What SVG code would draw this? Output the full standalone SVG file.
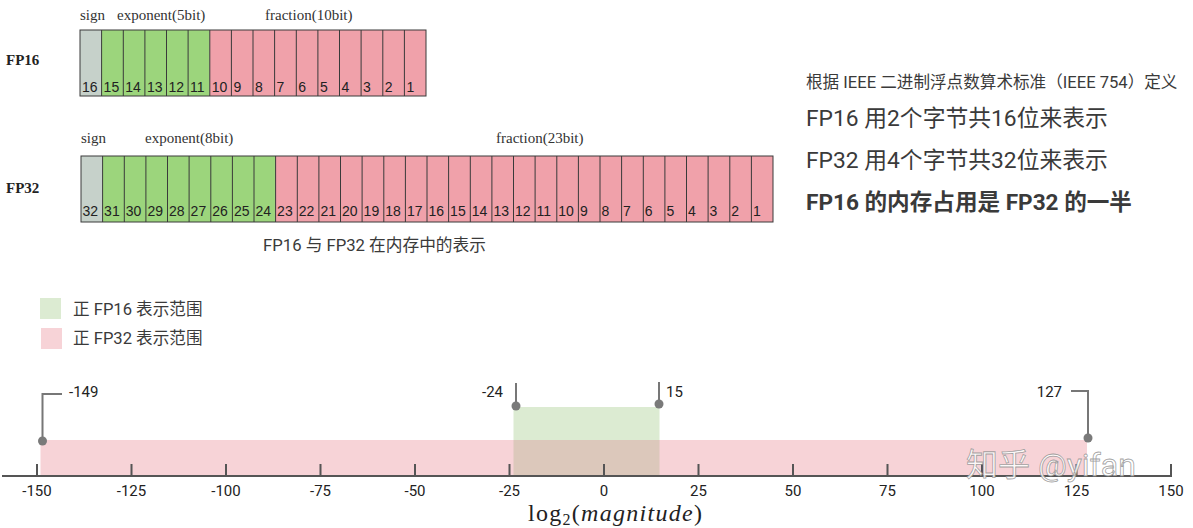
<svg xmlns="http://www.w3.org/2000/svg" width="1193" height="528" viewBox="0 0 1193 528">
<style>
.hdr{font-family:"Liberation Serif","Times New Roman",serif;font-size:15px;fill:#333}
.lbl{font-family:"Liberation Serif","Times New Roman",serif;font-size:15px;font-weight:bold;fill:#222}
.num{font-family:"Liberation Sans",Arial,sans-serif;font-size:14px;fill:#222}
.cell{stroke:#3a3a3a;stroke-width:1}
.div{stroke:#3a3a3a;stroke-width:1}
.sgn{fill:#c6d1ca}
.exp{fill:#9cd57c}
.frc{fill:#f0a1aa}
.cn{font-family:Roboto,"Noto Sans CJK SC",sans-serif;fill:#3a3a3a}
.tk{font-family:Roboto,"Noto Sans",sans-serif;font-size:15px;fill:#222;text-anchor:middle}
.ax{stroke:#555;stroke-width:2}
.pin{stroke:#777;stroke-width:2;fill:none}
.dot{fill:#7a7a7a}
</style>
<rect width="1193" height="528" fill="#ffffff"/>

<g id="fp16">
<text class="lbl" x="6" y="65">FP16</text>
<text class="hdr" x="80" y="20">sign</text>
<text class="hdr" x="117" y="20">exponent(5bit)</text>
<text class="hdr" x="265" y="20">fraction(10bit)</text>
<rect class="sgn" x="80" y="30" width="21.6" height="66"/>
<rect class="exp" x="101.6" y="30" width="108.2" height="66"/>
<rect class="frc" x="209.8" y="30" width="216.2" height="66"/>
<path class="div" d="M101.6 30V96M123.3 30V96M144.9 30V96M166.5 30V96M188.1 30V96M209.8 30V96M231.4 30V96M253 30V96M274.6 30V96M296.3 30V96M317.9 30V96M339.5 30V96M361.1 30V96M382.8 30V96M404.4 30V96"/>
<rect x="80" y="30" width="346" height="66" fill="none" class="cell"/>
<g class="num">
<text x="82" y="92">16</text><text x="103.6" y="92">15</text><text x="125.3" y="92">14</text><text x="146.9" y="92">13</text><text x="168.5" y="92">12</text><text x="190.1" y="92">11</text><text x="211.8" y="92">10</text><text x="233.4" y="92">9</text><text x="255" y="92">8</text><text x="276.6" y="92">7</text><text x="298.3" y="92">6</text><text x="319.9" y="92">5</text><text x="341.5" y="92">4</text><text x="363.1" y="92">3</text><text x="384.8" y="92">2</text><text x="406.4" y="92">1</text>
</g>
</g>

<g id="fp32">
<text class="lbl" x="6" y="193">FP32</text>
<text class="hdr" x="81" y="143">sign</text>
<text class="hdr" x="145" y="143">exponent(8bit)</text>
<text class="hdr" x="496" y="143">fraction(23bit)</text>
<rect class="sgn" x="81" y="156" width="21.6" height="66"/>
<rect class="exp" x="102.6" y="156" width="173" height="66"/>
<rect class="frc" x="275.6" y="156" width="497.4" height="66"/>
<path class="div" d="M102.6 156V222M124.3 156V222M145.9 156V222M167.5 156V222M189.1 156V222M210.8 156V222M232.4 156V222M254 156V222M275.6 156V222M297.3 156V222M318.9 156V222M340.5 156V222M362.1 156V222M383.8 156V222M405.4 156V222M427 156V222M448.6 156V222M470.3 156V222M491.9 156V222M513.5 156V222M535.1 156V222M556.8 156V222M578.4 156V222M600 156V222M621.6 156V222M643.3 156V222M664.9 156V222M686.5 156V222M708.1 156V222M729.8 156V222M751.4 156V222"/>
<rect x="81" y="156" width="692" height="66" fill="none" class="cell"/>
<g class="num">
<text x="82.5" y="216">32</text><text x="104.1" y="216">31</text><text x="125.8" y="216">30</text><text x="147.4" y="216">29</text><text x="169" y="216">28</text><text x="190.6" y="216">27</text><text x="212.3" y="216">26</text><text x="233.9" y="216">25</text><text x="255.5" y="216">24</text><text x="277.1" y="216">23</text><text x="298.8" y="216">22</text><text x="320.4" y="216">21</text><text x="342" y="216">20</text><text x="363.6" y="216">19</text><text x="385.3" y="216">18</text><text x="406.9" y="216">17</text><text x="428.5" y="216">16</text><text x="450.1" y="216">15</text><text x="471.8" y="216">14</text><text x="493.4" y="216">13</text><text x="515" y="216">12</text><text x="536.6" y="216">11</text><text x="558.3" y="216">10</text><text x="579.9" y="216">9</text><text x="601.5" y="216">8</text><text x="623.1" y="216">7</text><text x="644.8" y="216">6</text><text x="666.4" y="216">5</text><text x="688" y="216">4</text><text x="709.6" y="216">3</text><text x="731.3" y="216">2</text><text x="752.9" y="216">1</text>
</g>
</g>

<g id="caption">
<text class="cn" x="263" y="251" font-size="16.7">FP16 与 FP32 在内存中的表示</text>
</g>

<g id="notes">
<text class="cn" x="806" y="88" font-size="16.6">根据 IEEE 二进制浮点数算术标准（IEEE 754）定义</text>
<text class="cn" x="806" y="126" font-size="22.8">FP16 用2个字节共16位来表示</text>
<text class="cn" x="806" y="168" font-size="22.8">FP32 用4个字节共32位来表示</text>
<text class="cn" x="806" y="210" font-size="22.6" font-weight="bold">FP16 的内存占用是 FP32 的一半</text>
</g>

<g id="legend">
<rect x="40" y="298" width="21" height="21" fill="#dcebd2"/>
<text class="cn" x="73" y="315" font-size="16.6">正 FP16 表示范围</text>
<rect x="41" y="328" width="21" height="21" fill="#f7d3d7"/>
<text class="cn" x="73" y="344" font-size="16.6">正 FP32 表示范围</text>
</g>

<g id="ranges">
<rect x="40.5" y="440" width="1046.5" height="36" fill="#f7d3d7"/>
<rect x="513.5" y="407" width="146" height="33" fill="#dcebd2"/>
<rect x="513.5" y="440" width="146" height="36" fill="#dcc8bb"/>
</g>

<g id="axis">
<line class="ax" x1="2" y1="476" x2="1172" y2="476"/>
<path class="ax" d="M37 464V476M131.5 464V476M226 464V476M320.5 464V476M415 464V476M509.5 464V476M604 464V476M698.5 464V476M793 464V476M887.5 464V476M982 464V476M1076.5 464V476M1171 464V476"/>
<text class="tk" x="37" y="496">-150</text>
<text class="tk" x="131.5" y="496">-125</text>
<text class="tk" x="226" y="496">-100</text>
<text class="tk" x="320.5" y="496">-75</text>
<text class="tk" x="415" y="496">-50</text>
<text class="tk" x="509.5" y="496">-25</text>
<text class="tk" x="604" y="496">0</text>
<text class="tk" x="698.5" y="496">25</text>
<text class="tk" x="793" y="496">50</text>
<text class="tk" x="887.5" y="496">75</text>
<text class="tk" x="982" y="496">100</text>
<text class="tk" x="1076.5" y="496">125</text>
<text class="tk" x="1171" y="496">150</text>
<text x="528" y="521" font-family="'Liberation Serif','DejaVu Serif',serif" font-size="24" fill="#222" textLength="174" lengthAdjust="spacing">log<tspan font-size="16" dy="4">2</tspan><tspan dy="-4">(</tspan><tspan font-style="italic">magnitude</tspan>)</text>
</g>

<g id="markers">
<path class="pin" d="M42.5 441V394H62"/>
<circle class="dot" cx="42.5" cy="441" r="4.5"/>
<text class="tk" x="69" y="397" style="text-anchor:start">-149</text>
<path class="pin" d="M516 406V383"/>
<circle class="dot" cx="516" cy="406" r="4.5"/>
<text class="tk" x="503" y="397" style="text-anchor:end">-24</text>
<path class="pin" d="M659 404V382"/>
<circle class="dot" cx="659" cy="404" r="4.5"/>
<text class="tk" x="666" y="397" style="text-anchor:start">15</text>
<path class="pin" d="M1088 438V391H1071"/>
<circle class="dot" cx="1088" cy="438" r="4.5"/>
<text class="tk" x="1062" y="397" style="text-anchor:end">127</text>
</g>

<g id="watermark">
<text x="966" y="476" font-family="Roboto,'Noto Sans CJK SC',sans-serif" font-size="32" fill="#ffffff" fill-opacity="0.85" stroke="#8a8a8a" stroke-width="0.8" stroke-opacity="0.8">知乎 @yifan</text>
</g>
</svg>
